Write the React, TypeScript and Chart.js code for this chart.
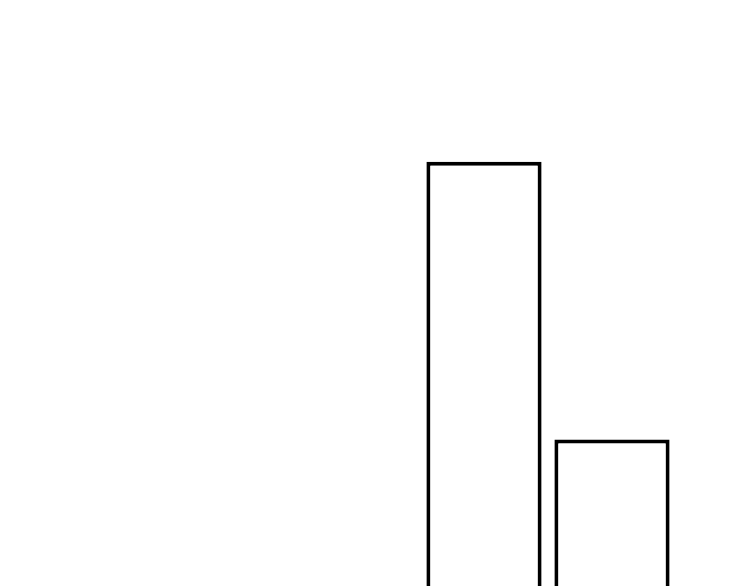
import React, { useEffect, useRef } from "react";
import { Chart, registerables, ChartOptions } from "chart.js";

Chart.register(...registerables);

// two outlined bars (scale 0..100)
const categories: string[] = ["A", "B"];
const values: number[] = [72.4, 25];
const yMax = 100;

const App: React.FC = () => {
  const canvasRef = useRef<HTMLCanvasElement>(null);

  useEffect(() => {
    if (!canvasRef.current) return;
    const ctx = canvasRef.current.getContext("2d")!;

    const chart = new Chart(ctx, {
      type: "bar",
      data: {
        labels: categories,
        datasets: [
          {
            label: "values",
            data: values,
            backgroundColor: "#ffffff",
            borderColor: "#000000",
            borderWidth: 4,
            borderSkipped: "start",
            barPercentage: 0.9,
            categoryPercentage: 1,
          },
        ],
      },
      options: {
        animation: false,
        responsive: true,
        maintainAspectRatio: false,
        layout: { padding: { left: 420, right: 74, top: 0, bottom: 0 } },
        plugins: {
          legend: { display: false },
          tooltip: { enabled: false },
        },
        scales: {
          x: { display: false },
          y: { display: false, min: 0, max: yMax },
        },
      } as ChartOptions<"bar">,
    });

    return () => {
      chart.destroy();
    };
  }, []);

  return (
    <div style={{ position: "fixed", left: 0, top: 0, width: 750, height: 586, background: "#fff" }}>
      <canvas ref={canvasRef} />
    </div>
  );
};

export default App;
